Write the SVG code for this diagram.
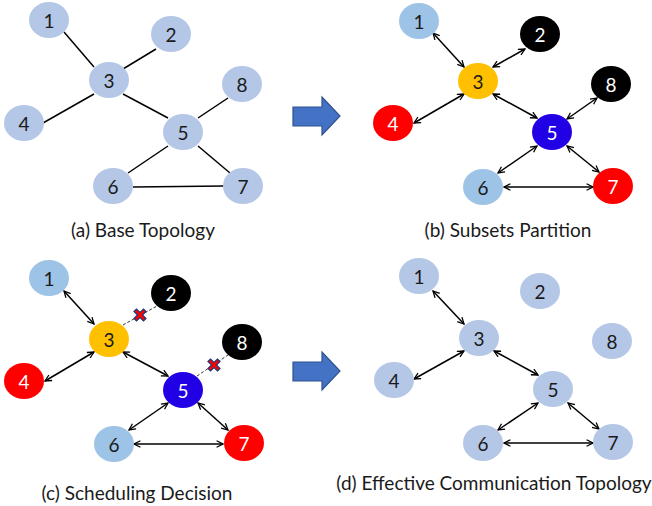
<svg xmlns="http://www.w3.org/2000/svg" width="652" height="506" viewBox="0 0 652 506">
<style>
.n ellipse{stroke:none}
.pb{fill:#B4C7E7}
.lb{fill:#9DC3E6}
.bk{fill:#000000}
.gd{fill:#FFC000}
.rd{fill:#FF0000}
.bl{fill:#2200E6}
.n text{font-family:Lato,"Open Sans",sans-serif;font-size:19px;text-anchor:middle;dominant-baseline:central}
.dk{fill:#1a1a1a}
.wt{fill:#ffffff}
.e line{stroke:#000;stroke-width:1.5}
.a line{stroke:#000;stroke-width:1.5;marker-start:url(#ah);marker-end:url(#ah)}
.d line{stroke:#333;stroke-width:1;stroke-dasharray:3,2}
.cap{font-family:Lato,"Open Sans",sans-serif;font-size:19px;fill:#1a1a1a;text-anchor:middle}
.blk{fill:#4472C4;stroke:#2F528F;stroke-width:1.2}
.x{fill:#FF0000;stroke:#1F3A7A;stroke-width:1.2}
</style>
<defs>
<marker id="ah" viewBox="0 0 10 10" refX="9" refY="5" markerWidth="8" markerHeight="8" orient="auto-start-reverse" markerUnits="userSpaceOnUse">
<path d="M1,1 L9,5 L1,9" fill="none" stroke="#000" stroke-width="1.6"/>
</marker>
<path id="xm" d="M-6,-3.5 L-3.5,-6 L0,-2.5 L3.5,-6 L6,-3.5 L2.5,0 L6,3.5 L3.5,6 L0,2.5 L-3.5,6 L-6,3.5 L-2.5,0 Z"/>
</defs>

<g id="connectors">
<g class="e">
<line x1="64" y1="32" x2="94" y2="67"/>
<line x1="156" y1="49" x2="123" y2="69"/>
<line x1="94" y1="94" x2="43" y2="123"/>
<line x1="123" y1="94" x2="168" y2="118"/>
<line x1="198" y1="118" x2="228" y2="98"/>
<line x1="168" y1="146" x2="128" y2="173"/>
<line x1="198" y1="146" x2="230" y2="173"/>
<line x1="133" y1="187" x2="224" y2="186"/>
</g>
<g class="a">
<line x1="433" y1="33" x2="464" y2="67"/>
<line x1="525" y1="49" x2="493" y2="67"/>
<line x1="464" y1="94" x2="414" y2="123"/>
<line x1="493" y1="94" x2="537" y2="118"/>
<line x1="597" y1="98" x2="567" y2="119"/>
<line x1="537" y1="146" x2="498" y2="173"/>
<line x1="567" y1="146" x2="599" y2="172"/>
<line x1="504" y1="187" x2="593" y2="187"/>
</g>
<g class="a">
<line x1="64" y1="291" x2="94" y2="324"/>
<line x1="94" y1="352" x2="45" y2="381"/>
<line x1="123" y1="352" x2="168" y2="376"/>
<line x1="168" y1="403" x2="129" y2="430"/>
<line x1="198" y1="403" x2="228" y2="430"/>
<line x1="134" y1="444" x2="223" y2="444"/>
</g>
<g class="d">
<line x1="123" y1="325" x2="157" y2="306"/>
<line x1="197" y1="376" x2="228" y2="355"/>
</g>
<use href="#xm" class="x" transform="translate(140,315)"/>
<use href="#xm" class="x" transform="translate(214,365)"/>
<g class="a">
<line x1="433" y1="291" x2="464" y2="324"/>
<line x1="464" y1="351" x2="414" y2="379"/>
<line x1="494" y1="351" x2="538" y2="375"/>
<line x1="538" y1="403" x2="498" y2="430"/>
<line x1="568" y1="403" x2="599" y2="429"/>
<line x1="504" y1="443" x2="593" y2="443"/>
</g>
</g>

<g id="a-nodes">
<g id="a1" class="n"><ellipse class="pb" cx="49" cy="20" rx="20" ry="18"/><text class="dk" x="49" y="20">1</text></g>
<g id="a2" class="n"><ellipse class="pb" cx="171" cy="34" rx="20" ry="18"/><text class="dk" x="171" y="34">2</text></g>
<g id="a3" class="n"><ellipse class="pb" cx="109" cy="80" rx="20" ry="18"/><text class="dk" x="109" y="80">3</text></g>
<g id="a4" class="n"><ellipse class="pb" cx="24" cy="123" rx="20" ry="18"/><text class="dk" x="24" y="123">4</text></g>
<g id="a5" class="n"><ellipse class="pb" cx="183" cy="132" rx="20" ry="18"/><text class="dk" x="183" y="132">5</text></g>
<g id="a6" class="n"><ellipse class="pb" cx="113" cy="186" rx="20" ry="18"/><text class="dk" x="113" y="186">6</text></g>
<g id="a7" class="n"><ellipse class="pb" cx="243" cy="186" rx="20" ry="18"/><text class="dk" x="243" y="186">7</text></g>
<g id="a8" class="n"><ellipse class="pb" cx="242" cy="84" rx="20" ry="18"/><text class="dk" x="242" y="84">8</text></g>
</g>

<g id="b-nodes">
<g id="b1" class="n"><ellipse class="lb" cx="419" cy="21" rx="20" ry="18"/><text class="dk" x="419" y="21">1</text></g>
<g id="b2" class="n"><ellipse class="bk" cx="540" cy="34" rx="20" ry="18"/><text class="wt" x="540" y="34">2</text></g>
<g id="b3" class="n"><ellipse class="gd" cx="478" cy="81" rx="20" ry="18"/><text class="dk" x="478" y="81">3</text></g>
<g id="b4" class="n"><ellipse class="rd" cx="393" cy="123" rx="20" ry="18"/><text class="wt" x="393" y="123">4</text></g>
<g id="b5" class="n"><ellipse class="bl" cx="552" cy="132" rx="20" ry="18"/><text class="wt" x="552" y="132">5</text></g>
<g id="b6" class="n"><ellipse class="lb" cx="483" cy="187" rx="20" ry="18"/><text class="dk" x="483" y="187">6</text></g>
<g id="b7" class="n"><ellipse class="rd" cx="613" cy="186" rx="20" ry="18"/><text class="wt" x="613" y="186">7</text></g>
<g id="b8" class="n"><ellipse class="bk" cx="611" cy="84" rx="20" ry="18"/><text class="wt" x="611" y="84">8</text></g>
</g>

<g id="c-nodes">
<g id="c1" class="n"><ellipse class="lb" cx="49" cy="278" rx="20" ry="18"/><text class="dk" x="49" y="278">1</text></g>
<g id="c2" class="n"><ellipse class="bk" cx="171" cy="293" rx="20" ry="18"/><text class="wt" x="171" y="293">2</text></g>
<g id="c3" class="n"><ellipse class="gd" cx="109" cy="339" rx="20" ry="18"/><text class="dk" x="109" y="339">3</text></g>
<g id="c4" class="n"><ellipse class="rd" cx="24" cy="381" rx="20" ry="18"/><text class="wt" x="24" y="381">4</text></g>
<g id="c5" class="n"><ellipse class="bl" cx="183" cy="390" rx="20" ry="18"/><text class="wt" x="183" y="390">5</text></g>
<g id="c6" class="n"><ellipse class="lb" cx="114" cy="444" rx="20" ry="18"/><text class="dk" x="114" y="444">6</text></g>
<g id="c7" class="n"><ellipse class="rd" cx="244" cy="443" rx="20" ry="18"/><text class="wt" x="244" y="443">7</text></g>
<g id="c8" class="n"><ellipse class="bk" cx="242" cy="342" rx="20" ry="18"/><text class="wt" x="242" y="342">8</text></g>
</g>

<g id="d-nodes">
<g id="d1" class="n"><ellipse class="pb" cx="419" cy="276" rx="20" ry="18"/><text class="dk" x="419" y="276">1</text></g>
<g id="d2" class="n"><ellipse class="pb" cx="540" cy="291" rx="20" ry="18"/><text class="dk" x="540" y="291">2</text></g>
<g id="d3" class="n"><ellipse class="pb" cx="479" cy="338" rx="20" ry="18"/><text class="dk" x="479" y="338">3</text></g>
<g id="d4" class="n"><ellipse class="pb" cx="394" cy="380" rx="20" ry="18"/><text class="dk" x="394" y="380">4</text></g>
<g id="d5" class="n"><ellipse class="pb" cx="553" cy="389" rx="20" ry="18"/><text class="dk" x="553" y="389">5</text></g>
<g id="d6" class="n"><ellipse class="pb" cx="483" cy="443" rx="20" ry="18"/><text class="dk" x="483" y="443">6</text></g>
<g id="d7" class="n"><ellipse class="pb" cx="613" cy="442" rx="20" ry="18"/><text class="dk" x="613" y="442">7</text></g>
<g id="d8" class="n"><ellipse class="pb" cx="612" cy="341" rx="20" ry="18"/><text class="dk" x="612" y="341">8</text></g>
</g>

<g id="block-arrows">
<path class="blk" d="M293,107 L322,107 L322,97 L340,116 L322,135 L322,126 L293,126 Z"/>
<path class="blk" d="M293,362 L322,362 L322,352 L340,371 L322,390 L322,381 L293,381 Z"/>
</g>

<g id="captions">
<text class="cap" x="143" y="237">(a) Base Topology</text>
<text class="cap" x="508" y="237">(b) Subsets Partition</text>
<text class="cap" x="137" y="500">(c) Scheduling Decision</text>
<text class="cap" x="494" y="490">(d) Effective Communication Topology</text>
</g>
</svg>
